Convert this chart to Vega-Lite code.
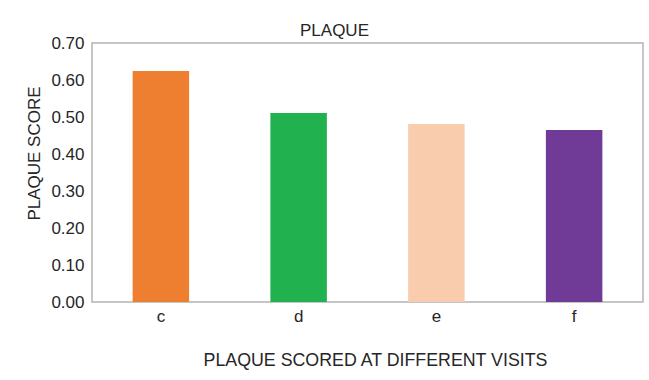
{
  "$schema": "https://vega.github.io/schema/vega-lite/v6.json",
  "autosize": {"type": "none"},
  "padding": {"left": 92, "top": 43, "right": 6, "bottom": 78},
  "width": 551,
  "height": 259,
  "background": "white",
  "title": {"text": "PLAQUE", "frame": "group", "anchor": "middle", "baseline": "alphabetic", "offset": 8, "dx": -33, "dy": 27, "font": "Liberation Sans", "fontSize": 17, "fontWeight": "normal", "color": "#262626"},
  "data": {"values": [
    {"visit": "c", "score": 0.624},
    {"visit": "d", "score": 0.511},
    {"visit": "e", "score": 0.481},
    {"visit": "f", "score": 0.465}
  ]},
  "mark": {"type": "bar", "width": {"band": 0.41}},
  "encoding": {
    "x": {"field": "visit", "type": "nominal", "sort": null,
      "scale": {"paddingInner": 0, "paddingOuter": 0},
      "axis": {"title": "PLAQUE SCORED AT DIFFERENT VISITS", "labelAngle": 0, "ticks": false, "tickSize": 0, "domain": false,
        "labelBaseline": "alphabetic", "labelPadding": 19,
        "titleX": 283, "titleY": 63, "titleBaseline": "alphabetic", "titleAlign": "center", "titleFontSize": 17.8}},
    "y": {"field": "score", "type": "quantitative",
      "scale": {"domain": [0, 0.7], "nice": false},
      "axis": {"title": "PLAQUE SCORE", "values": [0, 0.1, 0.2, 0.3, 0.4, 0.5, 0.6, 0.7], "format": ".2f", "grid": false, "ticks": false, "tickSize": 0, "domain": false,
        "labelPadding": 8, "labelBaseline": "middle",
        "titleX": -53, "titleY": 110, "titleAngle": -90, "titleBaseline": "alphabetic", "titleAlign": "center"}},
    "color": {"field": "visit", "type": "nominal", "legend": null,
      "scale": {"domain": ["c", "d", "e", "f"], "range": ["#EE7F31", "#21B14F", "#F8CCAD", "#703A97"]}}
  },
  "config": {
    "view": {"stroke": "#B4B4B4", "strokeWidth": 1.5},
    "axis": {"labelFont": "Liberation Sans", "labelFontSize": 17, "labelColor": "#262626", "titleFont": "Liberation Sans", "titleFontSize": 17, "titleFontWeight": "normal", "titleColor": "#262626"}
  }
}
